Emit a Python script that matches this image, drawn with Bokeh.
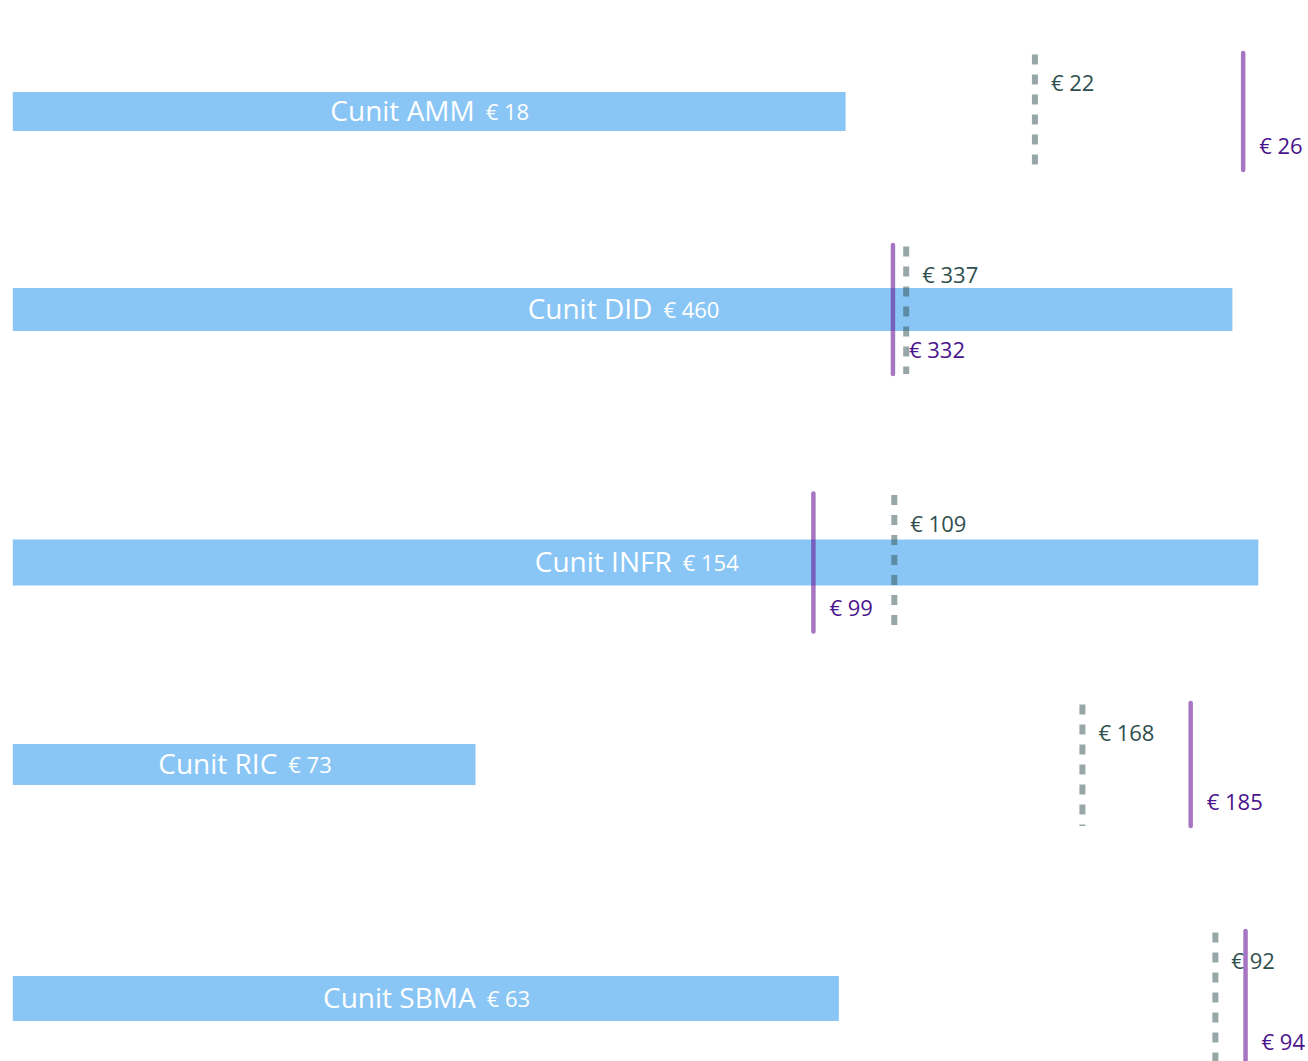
from bokeh.plotting import figure
from bokeh.models import ColumnDataSource, Range1d
from bokeh.layouts import column
from bokeh.embed import file_html
from bokeh.resources import INLINE
from bokeh.core.properties import value

# ---- data ----
names = ["Cunit AMM", "Cunit DID", "Cunit INFR", "Cunit RIC", "Cunit SBMA"]
actual = [17.6, 460, 154, 72.7, 63]          # blue bar
target_dash = [21.6, 337, 109, 168, 91.7]    # dashed grey marker
target_solid = [26.0, 332, 99, 185, 94]      # solid purple marker
scale_max = [27.38, 488.7, 160.2, 203.5, 98.8]  # per-row axis end

# ---- layout / style (px) ----
fig_h = [210, 225, 228, 218, 180]
center_from_top = [111, 99, 127, 101, 117]
bar_px = [39, 43, 46, 41, 45]

FONT = "Open Sans"
BAR_COLOR = "#8AC6F5"
DASH_COLOR = "#2F4F4F"
SOLID_COLOR = "#6A1B9A"
SOLID_TEXT = "#4A148C"

CW = {'C': 0.632, 'u': 0.617, 'n': 0.617, 'i': 0.258, 't': 0.361, ' ': 0.26,
      'A': 0.648, 'M': 0.907, 'D': 0.729, 'I': 0.331, 'N': 0.764, 'F': 0.53,
      'R': 0.618, 'S': 0.549, 'B': 0.667, '€': 0.572}


def text_w(s, size):
    return sum(CW.get(ch, 0.572) for ch in s) * size


def euro(v):
    return f"€ {v:.0f}"


figs = []
for i in range(len(names)):
    H = fig_h[i]
    top = center_from_top[i]
    p = figure(width=1308, height=H,
               x_range=Range1d(0, scale_max[i]),
               y_range=Range1d(-(H - top), top),
               output_backend="svg", toolbar_location=None,
               x_axis_location=None, y_axis_location=None,
               min_border_left=12, min_border_right=0,
               min_border_top=0, min_border_bottom=0,
               outline_line_color=None, background_fill_color="white",
               border_fill_color="white")
    p.grid.visible = False

    L = 1.5 * bar_px[i]

    bar_src = ColumnDataSource(dict(y=[0], left=[0], right=[actual[i]]))
    p.hbar(y="y", left="left", right="right", height=bar_px[i], source=bar_src,
           fill_color=BAR_COLOR, line_color=None)

    dash_src = ColumnDataSource(dict(x=[target_dash[i]], y0=[L - 1.5], y1=[-L],
                                     ly=[L - 31], label=[euro(target_dash[i])]))
    p.segment(x0="x", y0="y0", x1="x", y1="y1", source=dash_src,
              line_color=DASH_COLOR, line_alpha=0.5, line_width=6,
              line_dash="10 10", line_cap="butt")

    solid_src = ColumnDataSource(dict(x=[target_solid[i]], y0=[-L], y1=[L],
                                      ly=[-(L - 23)], label=[euro(target_solid[i])]))
    p.segment(x0="x", y0="y0", x1="x", y1="y1", source=solid_src,
              line_color=SOLID_COLOR, line_alpha=0.6, line_width=4.5,
              line_cap="round")

    p.text(x="x", y="ly", text="label", source=dash_src,
           text_font=value(FONT), text_font_size="22px", text_color=DASH_COLOR,
           text_align="left", text_baseline="alphabetic", x_offset=16, y_offset=-2)
    p.text(x="x", y="ly", text="label", source=solid_src,
           text_font=value(FONT), text_font_size="22px", text_color=SOLID_TEXT,
           text_align="left", text_baseline="alphabetic", x_offset=16, y_offset=-2)

    # centered bar label: name (large) + value (small)
    nm = names[i]
    vl = euro(actual[i])
    w_name = text_w(nm, 28)
    w_val = text_w(vl, 22)
    gap = 11
    mid_src = ColumnDataSource(dict(x=[actual[i] / 2], y=[0], name=[nm], val=[vl]))
    p.text(x="x", y="y", text="name", source=mid_src,
           text_font=value(FONT), text_font_size="28px", text_color="white",
           text_align="right", text_baseline="alphabetic",
           x_offset=(w_name - gap - w_val) / 2, y_offset=-2)
    p.text(x="x", y="y", text="val", source=mid_src,
           text_font=value(FONT), text_font_size="22px", text_color="white",
           text_align="left", text_baseline="alphabetic",
           x_offset=(w_name + gap - w_val) / 2, y_offset=-1)

    figs.append(p)

layout = column(*figs, spacing=0)
open("out.html", "w").write(file_html(layout, INLINE))
